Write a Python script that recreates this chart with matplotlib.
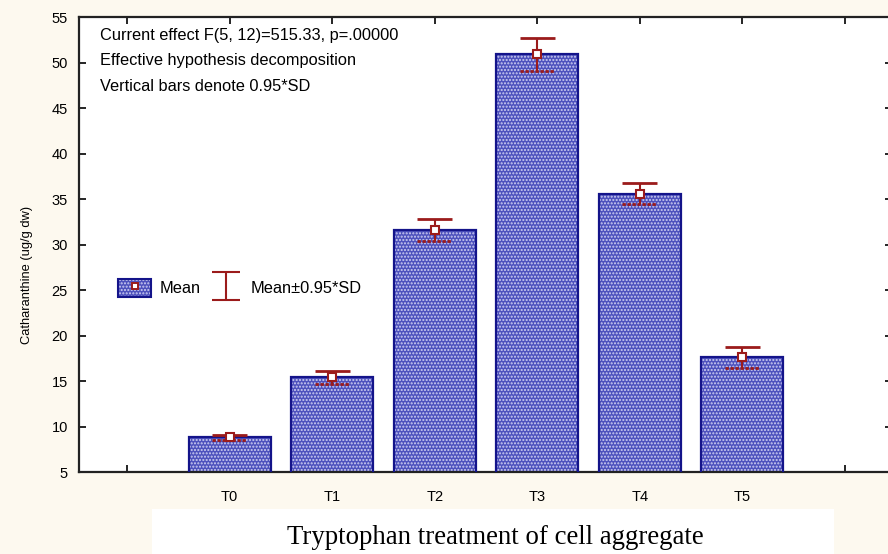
import matplotlib
matplotlib.use('Agg')
import matplotlib.pyplot as plt
from matplotlib.patches import Patch
from matplotlib.lines import Line2D
from matplotlib.path import Path
import numpy as np

# 数据
treatments = ['T0', 'T1', 'T2', 'T3', 'T4', 'T5']
means = [8.8, 15.4, 31.6, 50.9, 35.6, 17.6]
sd95 = [0.25, 0.7, 1.2, 1.8, 1.15, 1.15]

plt.rcParams['font.family'] = ['Liberation Sans', 'DejaVu Sans']

bg = '#fdf9ef'
navy = '#14148a'
red = '#9b1b1b'
face = '#4d51bd'
dots = '#cfcff2'

fig = plt.figure(figsize=(8.88, 5.54), dpi=100, facecolor=bg)
ax = fig.add_axes([0.089, 0.148, 0.9155, 0.821])
ax.set_facecolor('white')

x = np.arange(len(treatments))
# 柱子：蓝色底 + 白色点状纹理
ax.bar(x, means, width=0.8, bottom=0, color=face, edgecolor=dots,
       hatch='.....', linewidth=0, zorder=2)
ax.bar(x, means, width=0.8, bottom=0, fill=False, edgecolor=navy,
       linewidth=1.6, zorder=3)

# 误差棒
lo = np.array(means) - np.array(sd95)
hi = np.array(means) + np.array(sd95)
ax.vlines(x, lo, hi, color=red, linewidth=1.5, zorder=4)
ax.hlines(hi, x - 0.17, x + 0.17, color=red, linewidth=2, zorder=4)
ax.hlines(lo, x - 0.17, x + 0.17, color=red, linewidth=2,
          linestyles=(0, (1.2, 0.6)), zorder=4)
ax.plot(x, means, 's', color=red, markerfacecolor='white', markersize=6,
        markeredgewidth=1.5, linestyle='none', zorder=5)

ax.set_xlim(-1.47, 6.46)
ax.set_ylim(5, 55)
ax.set_xticks(np.arange(-1, 7))
ax.set_xticklabels([''] + treatments + [''])
ax.set_yticks(np.arange(5, 56, 5))
ax.tick_params(direction='in', top=True, right=True, length=5, width=1.2,
               labelsize=10.5, pad=8)
ax.tick_params(axis='x', pad=13)
for s in ax.spines.values():
    s.set_linewidth(1.6)
    s.set_color('#222222')

ax.set_ylabel('Catharanthine (ug/g dw)', fontsize=9.3)
ax.yaxis.set_label_coords(-0.057, 0.433)

# 注释文字
notes = ['Current effect F(5, 12)=515.33, p=.00000',
         'Effective hypothesis decomposition',
         'Vertical bars denote 0.95*SD']
for i, t in enumerate(notes):
    ax.text(0.026, 0.96 - i * 0.056, t, transform=ax.transAxes, fontsize=11.8,
            va='center', ha='left')

# 图例
bar_h = Patch(facecolor=face, edgecolor=dots, hatch='.....', linewidth=0)
bar_o = Patch(fill=False, edgecolor=navy, linewidth=1.5)
mk = Line2D([], [], marker='s', color=red, markerfacecolor='white',
            markersize=5, markeredgewidth=1.4, linestyle='none')
ibeam = Path([(-1, 1), (1, 1), (0, 1), (0, -1), (-1, -1), (1, -1)],
             [Path.MOVETO, Path.LINETO, Path.MOVETO, Path.LINETO, Path.MOVETO, Path.LINETO])
eb = Line2D([], [], marker=ibeam, color=red, markersize=20, markeredgewidth=1.5,
            linestyle='none', fillstyle='none')
ax.legend([(bar_h, bar_o, mk), eb], ['Mean', 'Mean\u00b10.95*SD'], ncol=2,
          frameon=False, loc='center left', bbox_to_anchor=(0.03, 0.405),
          fontsize=11.8, handlelength=2.0, handleheight=1.3, columnspacing=0.6,
          handletextpad=0.5)

# x 轴标题，白色底框
fig.text(0.558, 0.03, 'Tryptophan treatment of cell aggregate',
         family=['Liberation Serif', 'DejaVu Serif'], fontsize=19.3,
         ha='center', va='center')
fig.patches.append(plt.Rectangle((0.171, 0.0), 0.768, 0.081, transform=fig.transFigure,
                                 facecolor='white', edgecolor='none', zorder=-1))

fig.savefig('out.png', dpi=100, facecolor=bg)
